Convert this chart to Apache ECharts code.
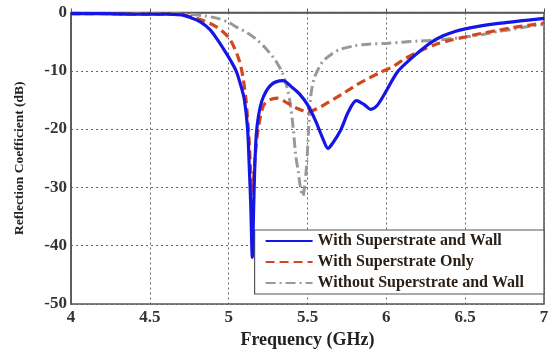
<!DOCTYPE html>
<html>
<head>
<meta charset="utf-8">
<script src="https://cdn.jsdelivr.net/npm/echarts@6/dist/echarts.min.js"></script>
<style>
  html, body { margin: 0; padding: 0; background: #fff; }
  #chart { width: 552px; height: 351px; }
</style>
</head>
<body>
<div id="chart"></div>
<script>
// frequency ticks and dB ticks
const xTicks = [4, 4.5, 5, 5.5, 6, 6.5, 7];
const yTicks = [0, -10, -20, -30, -40, -50];

const seriesNames = ['With Superstrate and Wall', 'With Superstrate Only', 'Without Superstrate and Wall'];

// with superstrate and wall
const wallFreq = [4.0, 4.2, 4.4, 4.6, 4.7, 4.76, 4.82, 4.88, 4.93, 4.98, 5.02, 5.05, 5.08, 5.10, 5.12, 5.13, 5.14, 5.15, 5.158, 5.165, 5.175, 5.19, 5.21, 5.24, 5.27, 5.30, 5.345, 5.40, 5.45, 5.50, 5.55, 5.60, 5.63, 5.66, 5.71, 5.76, 5.81, 5.86, 5.90, 5.94, 5.99, 6.07, 6.14, 6.20, 6.28, 6.36, 6.44, 6.5, 6.6, 6.7, 6.8, 6.9, 7.0];
const wallDb = [-0.2, -0.2, -0.3, -0.3, -0.4, -0.9, -1.6, -2.9, -4.7, -6.8, -8.6, -10.2, -12.8, -15, -20, -26, -33, -42, -34, -27, -21, -17.6, -15.2, -13.4, -12.4, -11.9, -11.7, -12.8, -14.0, -15.8, -18.5, -21.8, -23.3, -22.4, -20.2, -17.0, -15.1, -15.8, -16.6, -16.0, -13.9, -10.2, -8.3, -6.9, -5.2, -4.0, -3.2, -2.8, -2.3, -1.9, -1.6, -1.3, -1.0];

// superstrate only
const onlyFreq = [4.0, 4.2, 4.4, 4.6, 4.7, 4.77, 4.85, 4.93, 5.0, 5.04, 5.07, 5.09, 5.11, 5.13, 5.15, 5.17, 5.19, 5.22, 5.26, 5.31, 5.37, 5.43, 5.5, 5.56, 5.64, 5.72, 5.8, 5.88, 5.96, 6.04, 6.12, 6.2, 6.3, 6.4, 6.5, 6.6, 6.7, 6.8, 6.9, 7.0];
const onlyDb = [-0.2, -0.2, -0.3, -0.3, -0.4, -0.8, -1.5, -2.6, -4.3, -6.3, -8.5, -11, -15, -22, -31, -24, -19.5, -16, -15, -14.7, -15.5, -16.4, -17, -16.5, -15.3, -14, -12.6, -11.4, -10.3, -9.3, -7.9, -6.8, -5.6, -4.8, -4.2, -3.6, -3.1, -2.6, -2.2, -1.8];

// without superstrate and wall
const noneFreq = [4.0, 4.3, 4.6, 4.75, 4.85, 4.93, 5.0, 5.05, 5.12, 5.18, 5.23, 5.28, 5.31, 5.34, 5.37, 5.39, 5.41, 5.425, 5.44, 5.455, 5.47, 5.485, 5.495, 5.505, 5.52, 5.54, 5.57, 5.6, 5.65, 5.7, 5.8, 5.9, 6.0, 6.1, 6.2, 6.3, 6.4, 6.5, 6.6, 6.7, 6.8, 6.9, 7.0];
const noneDb = [-0.1, -0.2, -0.2, -0.3, -0.6, -1.0, -1.7, -2.5, -3.5, -4.7, -6.0, -7.6, -8.8, -10.3, -12.8, -15.5, -20, -24.5, -27, -30, -31.5, -29, -26, -21, -14.5, -11.5, -9.6, -8.3, -7.2, -6.4, -5.7, -5.4, -5.3, -5.1, -4.9, -4.8, -4.5, -4.2, -3.8, -3.3, -2.9, -2.4, -2.0];

const pairs = (xs, ys) => xs.map((x, i) => [x, ys[i]]);

const serif = '"Liberation Serif", "DejaVu Serif", serif';

let myChart = echarts.init(document.getElementById('chart'));
myChart.setOption({
  animation: false,
  textStyle: { fontFamily: serif, fontWeight: 'bold', color: '#222' },
  grid: {
    left: 71, right: 8, top: 12.5, bottom: 47,
    outerBoundsMode: 'none', containLabel: false,
    show: true, borderColor: '#555', borderWidth: 1.5, backgroundColor: '#fff'
  },
  legend: {
    orient: 'vertical',
    right: 8, bottom: 57,
    padding: [3, 20, 3, 10],
    itemWidth: 47, itemHeight: 14, itemGap: 5,
    backgroundColor: '#fff', borderColor: '#555', borderWidth: 1.2,
    itemStyle: { opacity: 0 },
    textStyle: { fontFamily: serif, fontWeight: 'bold', fontSize: 16, color: '#2a2018' },
    data: seriesNames
  },
  xAxis: {
    type: 'value', min: xTicks[0], max: xTicks[xTicks.length - 1], interval: 0.5,
    name: 'Frequency (GHz)', nameLocation: 'middle', nameGap: 25,
    nameTextStyle: { fontFamily: serif, fontWeight: 'bold', fontSize: 18, color: '#222' },
    axisLine: { lineStyle: { color: '#555', width: 1.5 } },
    axisTick: { inside: true, length: 4, lineStyle: { color: '#555' } },
    axisLabel: { fontFamily: serif, fontWeight: 'bold', fontSize: 17, color: '#333', margin: 5 },
    splitLine: { show: true, lineStyle: { type: [2, 3], color: '#666', width: 1 } }
  },
  yAxis: {
    type: 'value', min: yTicks[yTicks.length - 1], max: yTicks[0], interval: 10,
    name: 'Reflection Coefficient (dB)', nameLocation: 'middle', nameGap: 44,
    nameTextStyle: { fontFamily: serif, fontWeight: 'bold', fontSize: 13.5, color: '#222' },
    axisLine: { show: true, lineStyle: { color: '#555', width: 1.5 } },
    axisTick: { show: false },
    axisLabel: { fontFamily: serif, fontWeight: 'bold', fontSize: 17, color: '#333', margin: 4 },
    splitLine: { show: true, lineStyle: { type: [2, 3], color: '#666', width: 1 } }
  },
  series: [
    {
      name: seriesNames[2], type: 'line', symbol: 'none', smooth: 0.3, z: 2,
      data: pairs(noneFreq, noneDb),
      lineStyle: { color: '#999', width: 3, type: [10, 4, 2, 4] },
      itemStyle: { color: '#999' }
    },
    {
      name: seriesNames[1], type: 'line', symbol: 'none', smooth: 0.3, z: 3,
      data: pairs(onlyFreq, onlyDb),
      lineStyle: { color: '#d2481a', width: 3.2, type: [9, 5] },
      itemStyle: { color: '#d2481a' }
    },
    {
      name: seriesNames[0], type: 'line', symbol: 'none', smooth: 0.3, z: 4,
      data: pairs(wallFreq, wallDb),
      lineStyle: { color: '#1515e6', width: 3.2 },
      itemStyle: { color: '#1515e6' }
    }
  ]
});
</script>
</body>
</html>
